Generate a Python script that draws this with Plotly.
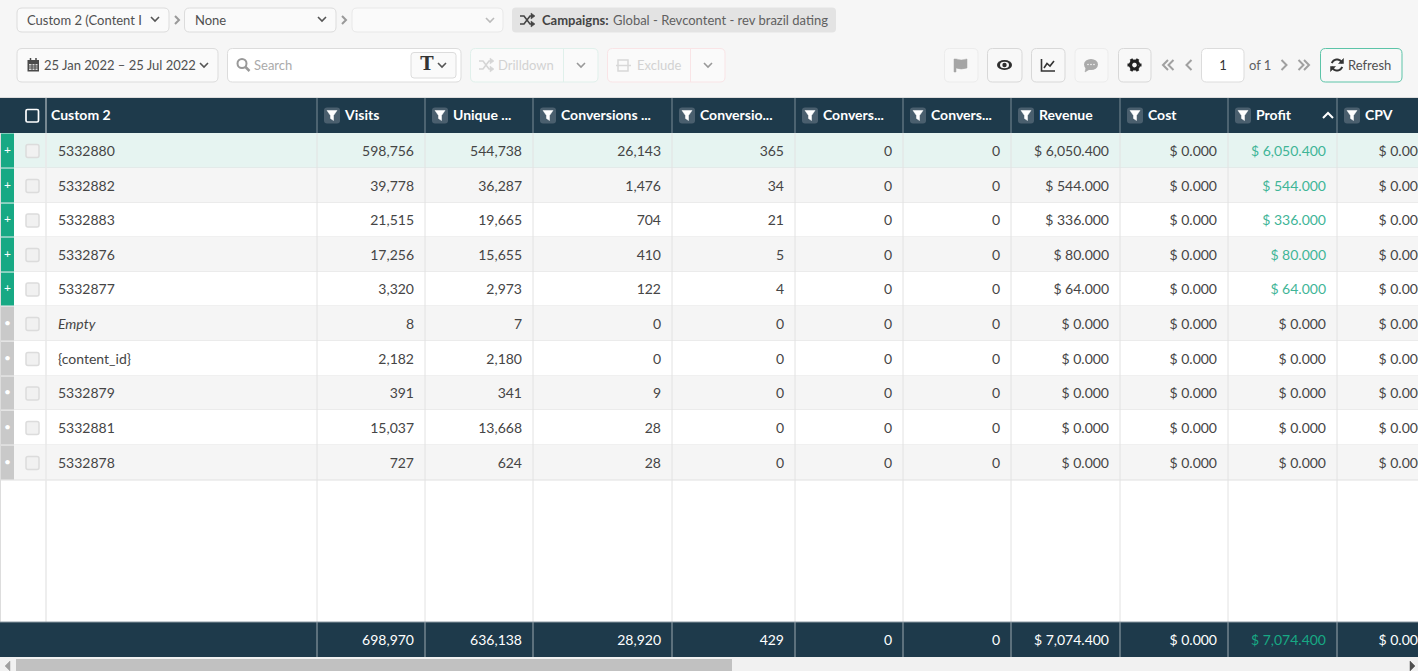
import numpy as np
import plotly.graph_objects as go

W, H = 1418, 671
FONT = "Lato"

# table data
row_names = ["5332880", "5332882", "5332883", "5332876", "5332877",
             "Empty", "{content_id}", "5332879", "5332881", "5332878"]
visits = [598756, 39778, 21515, 17256, 3320, 8, 2182, 391, 15037, 727]
unique_visits = [544738, 36287, 19665, 15655, 2973, 7, 2180, 341, 13668, 624]
conversions_a = [26143, 1476, 704, 410, 122, 0, 0, 9, 28, 28]
conversions_b = [365, 34, 21, 5, 4, 0, 0, 0, 0, 0]
conversions_c = [0, 0, 0, 0, 0, 0, 0, 0, 0, 0]
conversions_d = [0, 0, 0, 0, 0, 0, 0, 0, 0, 0]
revenue = [6050.4, 544.0, 336.0, 80.0, 64.0, 0, 0, 0, 0, 0]
cost = [0, 0, 0, 0, 0, 0, 0, 0, 0, 0]
profit = [6050.4, 544.0, 336.0, 80.0, 64.0, 0, 0, 0, 0, 0]
cpv = [0, 0, 0, 0, 0, 0, 0, 0, 0, 0]

headers = ["Visits", "Unique ...", "Conversions ...", "Conversio...", "Convers...",
           "Convers...", "Revenue", "Cost", "Profit", "CPV"]
totals = ["698,970", "636,138", "28,920", "429", "0", "0",
          "$ 7,074.400", "$ 0.000", "$ 7,074.400", "$ 0.000"]

# layout (pixels)
col_edges = [317, 425, 533, 672, 795, 903, 1011, 1120, 1228, 1337, 1437]
row_edges = [133, 168, 203, 237, 272, 306, 341, 376, 410, 445, 480]

NAVY = "#1e3a4b"
TEXT = "#454545"
GREEN = "#3fb597"
shapes = []


def rect(x0, y0, x1, y1, fill, line=None, lw=1):
    shapes.append(dict(type="rect", x0=x0, y0=y0, x1=x1, y1=y1, fillcolor=fill,
                       line=dict(color=line or fill, width=lw if line else 0)))


def rrect(x0, y0, x1, y1, fill, line=None, r=5, lw=1):
    p = (f"M{x0+r},{y0} L{x1-r},{y0} Q{x1},{y0} {x1},{y0+r} L{x1},{y1-r} Q{x1},{y1} {x1-r},{y1} "
         f"L{x0+r},{y1} Q{x0},{y1} {x0},{y1-r} L{x0},{y0+r} Q{x0},{y0} {x0+r},{y0} Z")
    shapes.append(dict(type="path", path=p, fillcolor=fill,
                       line=dict(color=line or fill, width=lw if line else 0)))


def path(p, color, lw=1.6, fill=None):
    shapes.append(dict(type="path", path=p, fillcolor=fill or "rgba(0,0,0,0)",
                       line=dict(color=color, width=lw)))


def line(x0, y0, x1, y1, color, lw=1):
    shapes.append(dict(type="line", x0=x0, y0=y0, x1=x1, y1=y1, line=dict(color=color, width=lw)))


def circle(cx, cy, rx, ry, fill, line_c=None, lw=1):
    shapes.append(dict(type="circle", x0=cx-rx, y0=cy-ry, x1=cx+rx, y1=cy+ry, fillcolor=fill,
                       line=dict(color=line_c or fill, width=lw if line_c else 0)))


def chevron_down(cx, cy, color="#555555", s=4):
    path(f"M{cx-s},{cy-s/2} L{cx},{cy+s/2} L{cx+s},{cy-s/2}", color)


def chevron_h(cx, cy, color="#999999", s=4, d=1, lw=2):
    path(f"M{cx-d*s/2},{cy-s} L{cx+d*s/2},{cy} L{cx-d*s/2},{cy+s}", color, lw)


def arc(cx, cy, r, a0, a1):
    t = np.radians(np.linspace(a0, a1, 14))
    pts = [f"{cx+r*np.cos(a):.2f},{cy+r*np.sin(a):.2f}" for a in t]
    return "M" + " L".join(pts)


def shuffle(cx, cy, color):
    path(f"M{cx-7},{cy-4} L{cx-3},{cy-4} L{cx+3},{cy+4} L{cx+6},{cy+4}", color)
    path(f"M{cx-7},{cy+4} L{cx-3},{cy+4} L{cx+3},{cy-4} L{cx+6},{cy-4}", color)
    path(f"M{cx+4},{cy-7} L{cx+8},{cy-4} L{cx+4},{cy-1} Z", color, 0.5, color)
    path(f"M{cx+4},{cy+1} L{cx+8},{cy+4} L{cx+4},{cy+7} Z", color, 0.5, color)


def filter_icon(x, y=115.5):
    rrect(x, y-8, x+16, y+8, "#4a5f6e", r=3)
    path(f"M{x+3},{y-5} L{x+13},{y-5} L{x+9.5},{y} L{x+9.5},{y+5} L{x+6.5},{y+3} L{x+6.5},{y} Z",
         "white", 0.5, "white")


# ---- table backgrounds
rect(0, 98, W, 133, NAVY)
rect(0, 622, W, 657, NAVY)
rect(0, 133, W, 622, "white")
for i in range(len(row_names)):
    if i == 0:
        bg = "#e6f4f1"
    elif i % 2 == 1:
        bg = "#f5f5f5"
    else:
        bg = "white"
    rect(1, row_edges[i], W, row_edges[i+1], bg)
    line(0, row_edges[i+1], W, row_edges[i+1], "#e0e0e0")
    strip = "#17a984" if profit[i] > 0 else "#c9c9c9"
    rect(1, row_edges[i]+0.5, 14, row_edges[i+1]-0.5, strip)
    rrect(26, (row_edges[i]+row_edges[i+1])/2-6, 39, (row_edges[i]+row_edges[i+1])/2+7,
          "#f1f1f1", "#dcdcdc", r=2, lw=1.5)

line(0.5, 133, 0.5, 622, "#dddddd")
line(0, 97.5, W, 97.5, "#dddddd")
line(46, 133, 46, 622, "#e8e8e8", 1.5)
line(46, 98, 46, 133, "#cfd6da", 1)
for x in col_edges[:-1]:
    line(x, 133, x, 622, "#e2e2e2")
    line(x, 98, x, 133, "#7b8c97")
    line(x, 622, x, 657, "#9aa7af")
line(0, 622, W, 622, "#8a98a2")

# header decorations
rrect(26, 109.5, 38.5, 122, NAVY, "white", r=1.5, lw=1.7)
for x in col_edges[:-1]:
    filter_icon(x+7)
path("M1323,118 L1328,113 L1333,118", "white", 2)

# scrollbar
rect(0, 657, W, H, "#f1f1f1")
rect(16, 659, 732, H, "#c1c1c1")
path("M10,661 L5,666 L10,671 Z", "#a0a0a0", 0.5, "#a0a0a0")
path("M1410,661 L1415,666 L1410,671 Z", "#505050", 0.5, "#505050")

# ---- toolbar
for x0, x1 in [(17, 169), (184.5, 336)]:
    rrect(x0, 8, x1, 32, "#fafafa", "#dcdcdc")
rrect(352, 8, 503, 32, "#fafafa", "#e8e8e8")
chevron_down(155, 19)
chevron_down(322, 19)
chevron_down(490, 20, "#bbbbbb")
chevron_h(177, 20)
chevron_h(344, 20)
rrect(512, 7.5, 836, 32.5, "#e3e3e3", r=4)
shuffle(527, 20, "#444444")

rrect(17, 48.5, 218, 82, "#fafafa", "#dcdcdc")
rect(27.5, 60, 39, 71.5, "#4a4a4a")
rect(29, 64, 37.5, 70, "#d8d8d8")
line(29, 66, 38, 66, "#4a4a4a")
line(29, 68, 38, 68, "#4a4a4a")
line(32, 64, 32, 70, "#4a4a4a")
line(35, 64, 35, 70, "#4a4a4a")
line(30.5, 58, 30.5, 61, "#4a4a4a", 1.5)
line(36, 58, 36, 61, "#4a4a4a", 1.5)
chevron_down(204, 65)

rrect(227.5, 48.5, 461, 82, "white", "#dcdcdc")
circle(242, 63.5, 4.5, 4.5, "rgba(0,0,0,0)", "#999999", 2)
line(245.5, 67, 249.5, 71, "#999999", 2.5)
rrect(411, 52.5, 456, 78, "#fafafa", "#dcdcdc", r=3)
chevron_down(442, 65)

rrect(470.5, 48.5, 598, 82, "#fafafa", "#e0f0eb")
line(563.5, 48.5, 563.5, 82, "#e0f0eb")
shuffle(486, 65, "#d5d5d5")
chevron_down(581, 65, "#999999")
rrect(607.5, 48.5, 725, 82, "#fafafa", "#f9e4e6")
line(690.5, 48.5, 690.5, 82, "#f9e4e6")
rect(618, 60, 628, 71, "#fafafa", "#d8d8d8", 1.5)
line(616, 65.5, 631, 65.5, "#d8d8d8", 1.5)
chevron_down(708, 65, "#999999")

for x0, x1, c in [(944.5, 978, "#ececec"), (987.5, 1022, "#d8d8d8"), (1031.5, 1065, "#d8d8d8"),
                  (1075, 1108, "#ececec"), (1118.5, 1151, "#d8d8d8")]:
    rrect(x0, 48.5, x1, 82, "#f8f8f8", c)
# flag
path("M954,59 L956,59 L956,72 L954,72 Z", "#a5a5a5", 0.5, "#a5a5a5")
path("M956,59 Q961,61 967,59 L967,68 Q961,70 956,68 Z", "#a5a5a5", 0.5, "#a5a5a5")
# eye
circle(1004.5, 65, 7.5, 5, "#2e2e2e")
circle(1004.5, 65, 4.5, 3.2, "#f8f8f8")
circle(1004.5, 65, 2.2, 2.2, "#2e2e2e")
# line chart
path("M1041.5,59 L1041.5,71 L1055,71", "#333333", 1.6)
path("M1044,68 L1047,63.5 L1050,66 L1054,61", "#333333", 1.6)
# comment
circle(1091, 64.5, 7, 5.5, "#aaaaaa")
path("M1086,67 L1085,72 L1090,69 Z", "#aaaaaa", 0.5, "#aaaaaa")
for dx in (-3, 0, 3):
    circle(1091+dx, 64.5, 0.8, 0.8, "#f8f8f8")
# gear
path(arc(1134.5, 65, 4, 0, 360), "#222222", 3.2)
for a in range(0, 360, 60):
    ca, sa = np.cos(np.radians(a)), np.sin(np.radians(a))
    line(1134.5+4.5*ca, 65+4.5*sa, 1134.5+7*ca, 65+7*sa, "#222222", 3)

for cx, d in [(1165.5, -1), (1171, -1), (1301, 1), (1306.5, 1)]:
    chevron_h(cx, 65, "#a0a0a0", 5, d)
chevron_h(1189, 65, "#a0a0a0", 5, -1)
chevron_h(1284, 65, "#a0a0a0", 5, 1)
rrect(1201.5, 48.5, 1244, 82, "white", "#dcdcdc")
rrect(1320.5, 48.5, 1402, 82, "#f8f8f8", "#5cc4a8", r=5)
path(arc(1337, 65, 5.5, 200, 340), "#333333", 2)
path(arc(1337, 65, 5.5, 20, 160), "#333333", 2)
path("M1343.5,58.5 L1343.5,63.5 L1338.5,63.5 Z", "#333333", 0.5, "#333333")
path("M1330.5,71.5 L1330.5,66.5 L1335.5,66.5 Z", "#333333", 0.5, "#333333")


# ---- text through scatter traces
def text_trace(x, y, text, color, size=14, pos="middle right", weight=400, style="normal", family=FONT):
    return go.Scatter(x=x, y=y, text=text, mode="text", textposition=pos, cliponaxis=True,
                      textfont=dict(family=family, size=size, color=color, weight=weight, style=style),
                      hoverinfo="skip", showlegend=False)


columns = [
    [f"{v:,}" for v in visits],
    [f"{v:,}" for v in unique_visits],
    [f"{v:,}" for v in conversions_a],
    [f"{v:,}" for v in conversions_b],
    [f"{v:,}" for v in conversions_c],
    [f"{v:,}" for v in conversions_d],
    [f"$ {v:,.3f}" for v in revenue],
    [f"$ {v:,.3f}" for v in cost],
    [f"$ {v:,.3f}" for v in profit],
    [f"$ {v:,.3f}" for v in cpv],
]
row_mid = [(a+b)/2+1.5 for a, b in zip(row_edges[:-1], row_edges[1:])]

traces = []
# body
for j, col in enumerate(columns):
    right = col_edges[j+1]-11
    if headers[j] == "Profit":
        colors = [GREEN if v > 0 else TEXT for v in profit]
    else:
        colors = [TEXT]*len(col)
    traces.append(text_trace([right]*len(col), row_mid, col, colors, pos="middle left"))
names_x = [58]*len(row_names)
traces.append(text_trace(names_x, row_mid, row_names, TEXT,
                         style=["italic" if n == "Empty" else "normal" for n in row_names]))
# strip marks
traces.append(text_trace([7.5]*len(row_names), [m-1.5 for m in row_mid],
                         ["+" if p > 0 else "•" for p in profit], "white", size=12, pos="middle center"))
# header
traces.append(text_trace([51], [116.5], ["Custom 2"], "white", weight=700))
traces.append(text_trace([x+28 for x in col_edges[:-1]], [116]*len(headers), headers, "white", weight=700))
# footer
traces.append(text_trace([x-11 for x in col_edges[1:]], [641]*len(totals), totals,
                         ["#17a984" if h == "Profit" else "white" for h in headers], pos="middle left"))
# toolbar
traces.append(text_trace([27, 195], [21.5, 21.5], ["Custom 2 (Content I", "None"], "#505050", size=13))
traces.append(text_trace([542], [21.5], ["Campaigns:"], "#444444", size=13, weight=700))
traces.append(text_trace([613], [21.5], ["Global - Revcontent - rev brazil dating"], "#606060", size=13))
traces.append(text_trace([44], [67], ["25 Jan 2022 – 25 Jul 2022"], "#505050", size=13))
traces.append(text_trace([254], [67], ["Search"], "#aaaaaa", size=13))
traces.append(text_trace([427], [65.5], ["T"], "#333333", size=18, pos="middle center", weight=700,
                         family="DejaVu Serif"))
traces.append(text_trace([498, 637], [67, 67], ["Drilldown", "Exclude"], "#d2d2d2", size=13))
traces.append(text_trace([1223], [67], ["1"], "#333333", size=13, pos="middle center"))
traces.append(text_trace([1249], [67], ["of 1"], "#606060", size=13))
traces.append(text_trace([1348], [67], ["Refresh"], "#505050", size=13))

fig = go.Figure(traces)
fig.update_layout(
    width=W, height=H, margin=dict(l=0, r=0, t=0, b=0),
    paper_bgcolor="#f6f6f6", plot_bgcolor="#f6f6f6",
    xaxis=dict(range=[0, W], visible=False, fixedrange=True),
    yaxis=dict(range=[H, 0], visible=False, fixedrange=True),
    shapes=[dict(s, layer="below", xref="x", yref="y") for s in shapes],
    showlegend=False, hovermode=False,
)
fig.write_html("out.html", config=dict(displayModeBar=False),
               post_script="document.body.style.margin='0';document.body.style.overflow='hidden';")
